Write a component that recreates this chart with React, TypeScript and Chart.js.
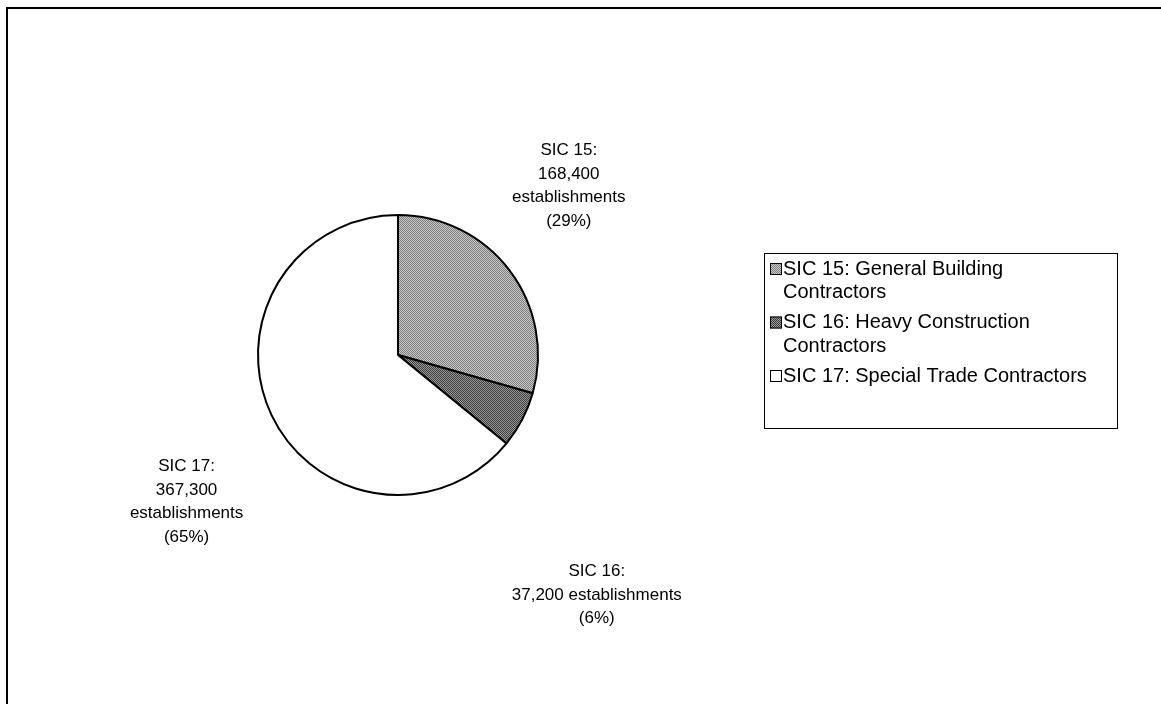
import React, { useEffect, useRef } from "react";
import { Chart, registerables } from "chart.js";

Chart.register(...registerables);

const codes = ["SIC 15", "SIC 16", "SIC 17"];
const categories = [
  "SIC 15: General Building Contractors",
  "SIC 16: Heavy Construction Contractors",
  "SIC 17: Special Trade Contractors",
];
const legendLines = [
  ["SIC 15: General Building", "Contractors"],
  ["SIC 16: Heavy Construction", "Contractors"],
  ["SIC 17: Special Trade Contractors"],
];
const establishments = [168400, 37200, 367300];
const percents = ["29%", "6%", "65%"];
// label block layout: value on its own line or joined with "establishments"
const labelSplit = [true, false, true];
// label block center offsets in units of pie radius
const labelOffsets = [
  [1.22, -1.21],
  [1.42, 1.715],
  [-1.51, 1.05],
];

const LABEL_FONT = '17px "Liberation Sans", Arial, sans-serif';
const LEGEND_FONT = '20px "Liberation Sans", Arial, sans-serif';
const LINE_H = 23.5;
const ENTRY_GAP = 6.5;

function makePattern(a: string, b: string): CanvasPattern | string {
  const c = document.createElement("canvas");
  c.width = 2;
  c.height = 2;
  const g = c.getContext("2d");
  if (!g) return a;
  g.fillStyle = a;
  g.fillRect(0, 0, 2, 2);
  g.fillStyle = b;
  g.fillRect(0, 0, 1, 1);
  g.fillRect(1, 1, 1, 1);
  const p = g.createPattern(c, "repeat");
  return p || a;
}

export default function App() {
  const ref = useRef<HTMLCanvasElement | null>(null);

  useEffect(() => {
    if (!ref.current) return;
    const fills = [
      makePattern("#cacaca", "#7c7c7c"),
      makePattern("#999999", "#3c3c3c"),
      "#ffffff",
    ];

    const framePlugin = {
      id: "frame",
      beforeDraw(chart: any) {
        const ctx = chart.ctx;
        ctx.save();
        ctx.fillStyle = "#ffffff";
        ctx.fillRect(0, 0, chart.width, chart.height);
        ctx.strokeStyle = "#000";
        ctx.lineWidth = 2;
        ctx.beginPath();
        ctx.moveTo(7, chart.height);
        ctx.lineTo(7, 8);
        ctx.lineTo(chart.width, 8);
        ctx.stroke();
        ctx.restore();
      },
    };

    const labelPlugin = {
      id: "sliceLabels",
      afterDraw(chart: any) {
        const ctx = chart.ctx;
        const meta = chart.getDatasetMeta(0);
        ctx.save();
        ctx.font = LABEL_FONT;
        ctx.fillStyle = "#000";
        ctx.textAlign = "center";
        ctx.textBaseline = "middle";
        meta.data.forEach((arc: any, i: number) => {
          const r = arc.outerRadius;
          const cx = arc.x + labelOffsets[i][0] * r;
          const cy = arc.y + labelOffsets[i][1] * r;
          const val = establishments[i].toLocaleString("en-US");
          const lines = labelSplit[i]
            ? [codes[i] + ":", val, "establishments", "(" + percents[i] + ")"]
            : [codes[i] + ":", val + " establishments", "(" + percents[i] + ")"];
          const y0 = cy - ((lines.length - 1) * LINE_H) / 2;
          lines.forEach((t, k) => ctx.fillText(t, cx, y0 + k * LINE_H));
        });

        // legend
        const lx = 764;
        const ly = 253;
        const lw = 353;
        const lh = 175;
        ctx.lineWidth = 1;
        ctx.strokeStyle = "#000";
        ctx.strokeRect(lx + 0.5, ly + 0.5, lw, lh);
        ctx.font = LEGEND_FONT;
        ctx.textAlign = "left";
        let y = ly + 16;
        legendLines.forEach((lines, i) => {
          ctx.fillStyle = fills[i] as any;
          ctx.fillRect(lx + 6, y - 6, 12, 12);
          ctx.strokeRect(lx + 6.5, y - 5.5, 11, 11);
          ctx.fillStyle = "#000";
          lines.forEach((t, k) => ctx.fillText(t, lx + 19, y + k * LINE_H));
          y += lines.length * LINE_H + ENTRY_GAP;
        });
        ctx.restore();
      },
    };

    const chart = new Chart(ref.current, {
      type: "pie",
      data: {
        labels: categories,
        datasets: [
          {
            data: establishments,
            backgroundColor: fills as any,
            borderColor: "#000",
            borderWidth: 2,
          },
        ],
      },
      options: {
        animation: false,
        responsive: false,
        layout: { padding: { left: 257, right: 622, top: 214, bottom: 208 } },
        plugins: {
          legend: { display: false },
          tooltip: { enabled: false },
        },
      },
      plugins: [framePlugin, labelPlugin],
    });
    return () => chart.destroy();
  }, []);

  return (
    <div style={{ position: "fixed", left: 0, top: 0, width: 1161, height: 704, background: "#fff" }}>
      <canvas ref={ref} width={1161} height={704} style={{ display: "block" }} />
    </div>
  );
}
